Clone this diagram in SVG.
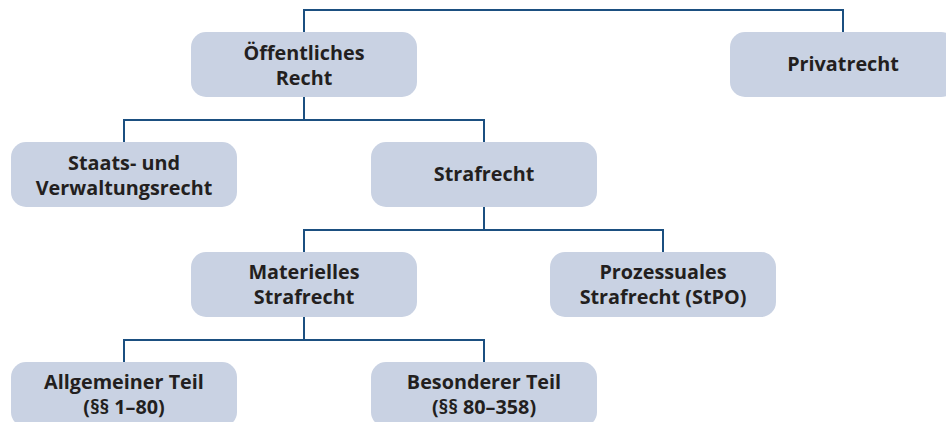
<svg xmlns="http://www.w3.org/2000/svg" width="946" height="422" viewBox="0 0 946 422">
<style>
.box{fill:#c9d2e3;}
.lbl{font-family:"Open Sans","Liberation Sans",sans-serif;font-weight:700;font-size:19.8px;fill:#231f20;text-anchor:middle;}
.conn{fill:none;stroke:#1b4f80;stroke-width:2;}
</style>
<rect width="946" height="422" fill="#ffffff"/>
<g id="connectors">
<path class="conn" d="M304,32 V10 H843 V32"/>
<path class="conn" d="M304,97 V120 M124,142 V120 H484 V142"/>
<path class="conn" d="M484,207 V230 M304,252 V230 H663 V252"/>
<path class="conn" d="M304,317 V340 M124,362 V340 H484 V362"/>
</g>
<g id="oeffentliches-recht">
<rect class="box" x="191" y="32" width="226" height="65" rx="15"/>
<text class="lbl" x="304" y="60">Öffentliches</text>
<text class="lbl" x="304" y="85">Recht</text>
</g>
<g id="privatrecht">
<rect class="box" x="730" y="32" width="226" height="65" rx="15"/>
<text class="lbl" x="843" y="71">Privatrecht</text>
</g>
<g id="staats-verwaltungsrecht">
<rect class="box" x="11" y="142" width="226" height="65" rx="15"/>
<text class="lbl" x="124" y="170">Staats- und</text>
<text class="lbl" x="124" y="195">Verwaltungsrecht</text>
</g>
<g id="strafrecht">
<rect class="box" x="371" y="142" width="226" height="65" rx="15"/>
<text class="lbl" x="484" y="181">Strafrecht</text>
</g>
<g id="materielles-strafrecht">
<rect class="box" x="191" y="252" width="226" height="65" rx="15"/>
<text class="lbl" x="304" y="279">Materielles</text>
<text class="lbl" x="304" y="304">Strafrecht</text>
</g>
<g id="prozessuales-strafrecht">
<rect class="box" x="550" y="252" width="226" height="65" rx="15"/>
<text class="lbl" x="663" y="279">Prozessuales</text>
<text class="lbl" x="663" y="304">Strafrecht (StPO)</text>
</g>
<g id="allgemeiner-teil">
<rect class="box" x="11" y="362" width="226" height="65" rx="15"/>
<text class="lbl" x="124" y="389">Allgemeiner Teil</text>
<text class="lbl" x="124" y="414">(§§ 1–80)</text>
</g>
<g id="besonderer-teil">
<rect class="box" x="371" y="362" width="226" height="65" rx="15"/>
<text class="lbl" x="484" y="389">Besonderer Teil</text>
<text class="lbl" x="484" y="414">(§§ 80–358)</text>
</g>
</svg>
